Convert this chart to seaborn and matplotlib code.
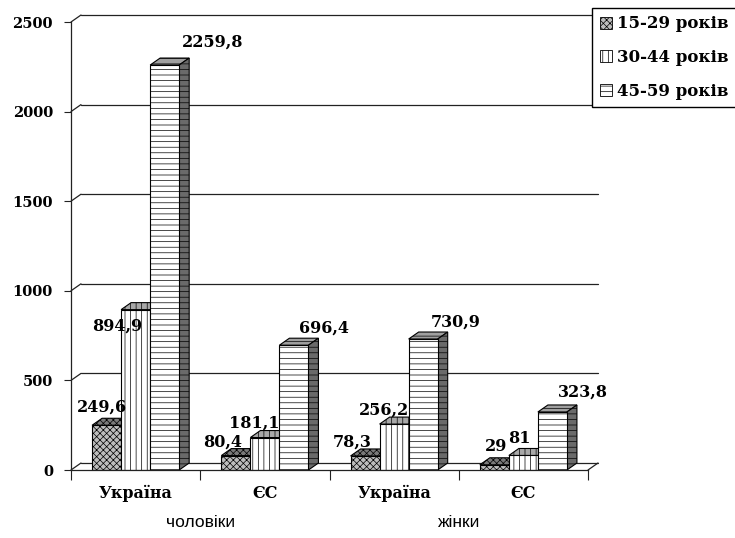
import pandas as pd
import matplotlib.pyplot as plt
import matplotlib.transforms as mtransforms
import seaborn as sns
from matplotlib.patches import Polygon, Patch

# -------------------------------
# Data
# -------------------------------
countries = ["Україна", "ЄС", "Україна", "ЄС"]
sexes = ["чоловіки", "чоловіки", "жінки", "жінки"]
age_groups = ["15-29 років", "30-44 років", "45-59 років"]
v_15_29 = [249.6, 80.4, 78.3, 29]
v_30_44 = [894.9, 181.1, 256.2, 81]
v_45_59 = [2259.8, 696.4, 730.9, 323.8]
y_ticks = [0, 500, 1000, 1500, 2000, 2500]

# hand placed value labels (pixel nudges from the bar top), like in the original
label_dx = [[-5, -13, -13, 2], [-18, -11, -10, -4], [48, 30, 33, 31]]
label_dy = [[18, 13, 14, 18], [-16, 14, 14, 17], [23, 17, 17, 20]]

keys = [f"{c} / {s}" for c, s in zip(countries, sexes)]
rows = []
for age, vals in zip(age_groups, [v_15_29, v_30_44, v_45_59]):
    for k, v in zip(keys, vals):
        rows.append({"group": k, "age": age, "value": v})
df = pd.DataFrame(rows)

# -------------------------------
# Style
# -------------------------------
sns.set_style("white")
plt.rcParams["font.family"] = ["DejaVu Serif"]
plt.rcParams["font.weight"] = "bold"
plt.rcParams["text.color"] = "black"
plt.rcParams["xtick.color"] = "black"
plt.rcParams["ytick.color"] = "black"
plt.rcParams["hatch.linewidth"] = 0.5

front_colors = ["#bdbdbd", "#ffffff", "#ffffff"]
top_colors = ["#7a7a7a", "#a8a8a8", "#a0a0a0"]
side_colors = ["#6a6a6a", "#6a6a6a", "#6a6a6a"]
hatches = ["xxxxx", "|||", "---"]

fig = plt.figure(figsize=(7.35, 5.38), dpi=100)
ax = fig.add_axes([71 / 735, 68 / 538, 517 / 735, 448 / 538])

sns.barplot(data=df, x="group", y="value", hue="age", order=keys,
            hue_order=age_groups, width=0.674, gap=0, dodge=True,
            palette=front_colors, saturation=1, edgecolor="black",
            linewidth=0.8, errorbar=None, legend=False, ax=ax)

ax.set_xlim(-0.5, 3.5)
ax.set_ylim(0, 2500)

# depth of the fake 3D effect, 10 px right and 7 px up
px_x = 517 / 4
px_y = 448 / 2500
ddx = 10 / px_x
ddy = 7 / px_y

# back wall grid + floor
for v in y_ticks:
    ax.plot([-0.5 + ddx, 3.5 + ddx], [v + ddy, v + ddy], color="#222222",
            lw=0.9, zorder=0.5, clip_on=False)
    ax.plot([-0.5, -0.5 + ddx], [v, v + ddy], color="#222222",
            lw=0.9, zorder=0.5, clip_on=False)
ax.plot([3.5, 3.5 + ddx], [0, ddy], color="#222222", lw=0.9, zorder=0.5,
        clip_on=False)

# bars: hatches, tops, sides, labels
for i, cont in enumerate(ax.containers):
    for j, p in enumerate(cont.patches):
        rank = j * 3 + i
        x0 = p.get_x()
        x1 = x0 + p.get_width()
        h = p.get_height()
        p.set_hatch(hatches[i])
        p.set_zorder(3 + rank * 0.1 + 0.05)
        top = Polygon([(x0, h), (x1, h), (x1 + ddx, h + ddy), (x0 + ddx, h + ddy)],
                      closed=True, facecolor=top_colors[i], edgecolor="black",
                      lw=0.8, hatch=hatches[i], zorder=3 + rank * 0.1,
                      clip_on=False)
        side = Polygon([(x1, 0), (x1, h), (x1 + ddx, h + ddy), (x1 + ddx, ddy)],
                       closed=True, facecolor=side_colors[i], edgecolor="black",
                       lw=0.8, hatch=hatches[i], zorder=3 + rank * 0.1,
                       clip_on=False)
        ax.add_patch(top)
        ax.add_patch(side)
        txt = f"{h:g}".replace(".", ",")
        ax.annotate(txt, xy=((x0 + x1) / 2, h),
                    xytext=(label_dx[i][j], label_dy[i][j]),
                    textcoords="offset pixels", ha="center", va="center",
                    fontsize=11.5, fontweight="bold", zorder=10,
                    annotation_clip=False)

# -------------------------------
# Axes
# -------------------------------
for s in ["top", "right"]:
    ax.spines[s].set_visible(False)
for s in ["left", "bottom"]:
    ax.spines[s].set_color("#222222")
    ax.spines[s].set_linewidth(0.9)
    ax.spines[s].set_zorder(20)

ax.set_yticks(y_ticks)
ax.set_yticklabels([str(t) for t in y_ticks])
ax.tick_params(axis="y", direction="out", length=5, width=0.8, pad=8,
               labelsize=10.5, left=True, color="#222222", labelcolor="black")

ax.set_xticks([-0.5, 0.5, 1.5, 2.5, 3.5])
ax.set_xticklabels([])
ax.set_xticks([0, 1, 2, 3], labels=countries, minor=True)
ax.tick_params(axis="x", which="major", direction="out", length=7, width=0.8,
               bottom=True, color="#222222")
ax.tick_params(axis="x", which="minor", length=0, pad=11, labelsize=11.5,
               labelcolor="black")
ax.set_xlabel("")
ax.set_ylabel("")

trans = mtransforms.blended_transform_factory(ax.transData, ax.transAxes)
ax.text(0.5, -0.118, "чоловіки", transform=trans, ha="center", va="center",
        fontsize=12.5, fontweight="normal", family="Liberation Sans")
ax.text(2.5, -0.118, "жінки", transform=trans, ha="center", va="center",
        fontsize=12.5, fontweight="normal", family="Liberation Sans")

# -------------------------------
# Legend
# -------------------------------
handles = [Patch(facecolor=front_colors[i], edgecolor="black", hatch=hatches[i],
                 lw=0.6, label=age_groups[i]) for i in range(3)]
leg = fig.legend(handles=handles, loc="upper left",
                 bbox_to_anchor=(592 / 735, 1 - 8 / 538), frameon=True,
                 fancybox=False, edgecolor="black", framealpha=1,
                 fontsize=12, handlelength=0.75, handleheight=0.75,
                 handletextpad=0.3, labelspacing=1.0, borderpad=0.45,
                 borderaxespad=0)
leg.get_frame().set_linewidth(1)

fig.savefig("out.png", dpi=100)
